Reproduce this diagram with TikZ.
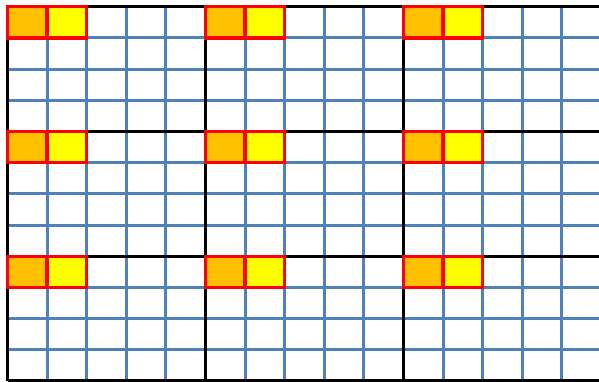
\documentclass[tikz,border=0pt]{standalone}
\usepackage{tikz}
\definecolor{gridblue}{HTML}{4F81BD}
\definecolor{hlorange}{HTML}{FFC000}
\definecolor{hlyellow}{HTML}{FFFF00}
\definecolor{hlred}{HTML}{FF0000}
\tikzset{
  bluegrid/.style={draw=gridblue, line width=3.1pt},
  blockline/.style={draw=black, line width=3.3pt},
  orangecell/.style={fill=hlorange, draw=hlred, line width=3.3pt},
  yellowcell/.style={fill=hlyellow, draw=hlred, line width=3.3pt},
}
\begin{document}
\begin{tikzpicture}[x=1pt, y=-1pt]
\useasboundingbox (0,0) rectangle (599,382);
\fill[white] (0,0) rectangle (599,382);
\clip (0,0) rectangle (599,382);
\def\xo{7.5}
\def\yo{6.7}
\def\cw{39.6}
\def\ch{31.2}
% blue grid
\foreach \i in {0,...,15} {
  \draw[bluegrid] ({\xo+\i*\cw},\yo) -- ({\xo+\i*\cw},{\yo+12*\ch});
}
\foreach \j in {0,...,12} {
  \draw[bluegrid] (\xo,{\yo+\j*\ch}) -- ({\xo+15*\cw},{\yo+\j*\ch});
}
% black block lines
\foreach \i in {0,5,10,15} {
  \draw[blockline] ({\xo+\i*\cw},\yo) -- ({\xo+\i*\cw},{\yo+12*\ch});
}
\foreach \j in {0,4,8,12} {
  \draw[blockline] (\xo,{\yo+\j*\ch}) -- ({\xo+15*\cw},{\yo+\j*\ch});
}
% highlighted cells
\foreach \bi in {0,5,10} {
  \foreach \bj in {0,4,8} {
    \draw[orangecell] ({\xo+\bi*\cw},{\yo+\bj*\ch}) rectangle ({\xo+(\bi+1)*\cw},{\yo+(\bj+1)*\ch});
    \draw[yellowcell] ({\xo+(\bi+1)*\cw},{\yo+\bj*\ch}) rectangle ({\xo+(\bi+2)*\cw},{\yo+(\bj+1)*\ch});
  }
}
\end{tikzpicture}
\end{document}
